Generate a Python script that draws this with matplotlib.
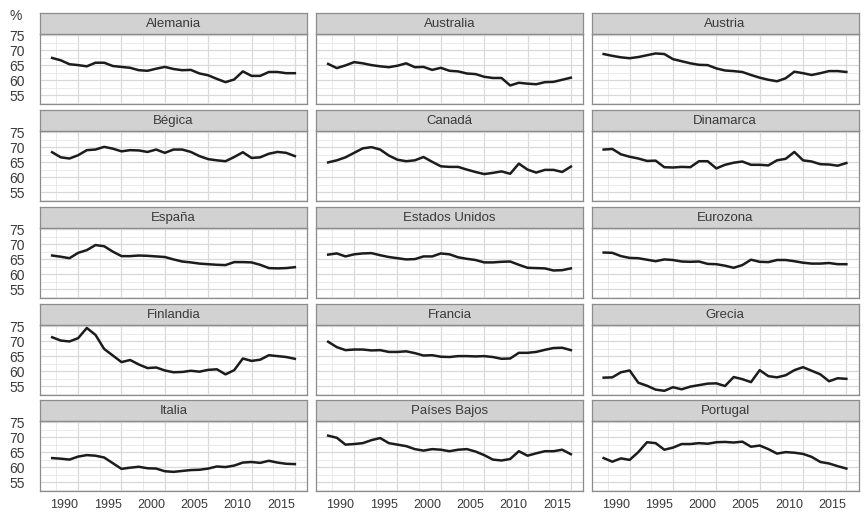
import matplotlib.pyplot as plt
from matplotlib.ticker import MultipleLocator

plt.rcParams["font.family"] = ["Liberation Sans", "DejaVu Sans"]

years = list(range(1987, 2016))

alemania = [67.4, 66.6, 65.3, 65.0, 64.6, 65.8, 65.8, 64.7, 64.4, 64.1, 63.3, 63.1, 63.8, 64.4, 63.7,
            63.3, 63.4, 62.2, 61.6, 60.4, 59.3, 60.2, 62.9, 61.4, 61.4, 62.7, 62.7, 62.3, 62.3]
australia = [65.4, 64.0, 64.9, 66.0, 65.6, 65.0, 64.6, 64.3, 64.8, 65.6, 64.3, 64.4, 63.4, 64.1, 63.1,
             62.9, 62.2, 62.0, 61.1, 60.7, 60.7, 58.2, 59.1, 58.8, 58.6, 59.3, 59.4, 60.1, 60.8]
austria = [68.7, 68.1, 67.6, 67.3, 67.7, 68.3, 68.9, 68.7, 67.0, 66.3, 65.6, 65.1, 65.0, 63.9, 63.2,
           63.0, 62.7, 61.7, 60.8, 60.1, 59.6, 60.6, 62.8, 62.3, 61.7, 62.3, 63.0, 63.0, 62.7]
belgica = [68.3, 66.6, 66.2, 67.3, 69.0, 69.2, 70.1, 69.5, 68.6, 69.0, 68.9, 68.4, 69.2, 68.1, 69.2,
           69.2, 68.4, 67.0, 66.0, 65.6, 65.3, 66.7, 68.3, 66.4, 66.6, 67.8, 68.4, 68.1, 67.0]
canada = [64.9, 65.6, 66.6, 68.1, 69.6, 70.0, 69.2, 67.2, 65.8, 65.3, 65.6, 66.7, 65.1, 63.6, 63.4,
          63.4, 62.5, 61.7, 61.0, 61.4, 61.9, 61.1, 64.5, 62.5, 61.5, 62.4, 62.4, 61.7, 63.5]
dinamarca = [69.2, 69.4, 67.6, 66.8, 66.2, 65.4, 65.5, 63.3, 63.2, 63.4, 63.3, 65.3, 65.3, 62.9, 64.1,
             64.8, 65.2, 64.1, 64.1, 63.9, 65.6, 66.1, 68.4, 65.6, 65.2, 64.3, 64.2, 63.8, 64.7]
espana = [66.2, 65.8, 65.3, 67.1, 68.0, 69.7, 69.3, 67.5, 66.0, 66.0, 66.2, 66.1, 65.9, 65.7, 64.9,
          64.2, 63.9, 63.5, 63.3, 63.1, 63.0, 64.0, 64.0, 63.9, 63.1, 62.0, 61.9, 62.0, 62.3]
estados_unidos = [66.5, 66.9, 65.9, 66.6, 66.9, 67.0, 66.3, 65.7, 65.3, 64.9, 65.0, 65.9, 65.9, 66.9, 66.6,
                  65.6, 65.1, 64.7, 63.9, 63.9, 64.1, 64.2, 63.1, 62.1, 62.0, 61.9, 61.2, 61.3, 61.9]
eurozona = [67.2, 67.1, 66.0, 65.4, 65.3, 64.8, 64.3, 64.9, 64.7, 64.2, 64.1, 64.2, 63.4, 63.3, 62.8,
            62.1, 63.0, 64.8, 64.1, 64.0, 64.7, 64.7, 64.3, 63.8, 63.5, 63.5, 63.7, 63.3, 63.3]
finlandia = [71.3, 70.2, 69.9, 71.0, 74.4, 72.1, 67.4, 65.2, 63.0, 63.7, 62.2, 61.0, 61.2, 60.2, 59.6,
             59.7, 60.1, 59.8, 60.4, 60.6, 58.9, 60.3, 64.2, 63.4, 63.8, 65.3, 65.0, 64.7, 64.1]
francia = [69.8, 68.0, 67.0, 67.2, 67.2, 66.9, 67.0, 66.4, 66.4, 66.6, 66.0, 65.2, 65.3, 64.8, 64.7,
           65.0, 65.0, 64.9, 65.0, 64.7, 64.1, 64.2, 66.1, 66.1, 66.4, 67.1, 67.7, 67.8, 67.0]
grecia = [57.8, 57.9, 59.6, 60.2, 56.1, 55.1, 53.8, 53.4, 54.6, 53.9, 54.8, 55.3, 55.8, 55.9, 55.0,
          58.0, 57.3, 56.3, 60.3, 58.3, 57.9, 58.6, 60.3, 61.3, 60.1, 58.9, 56.6, 57.6, 57.4]
italia = [63.0, 62.8, 62.5, 63.5, 64.0, 63.8, 63.2, 61.3, 59.4, 59.8, 60.1, 59.6, 59.5, 58.6, 58.4,
          58.7, 59.0, 59.1, 59.5, 60.2, 60.0, 60.5, 61.5, 61.7, 61.4, 62.1, 61.5, 61.1, 61.0]
paises_bajos = [70.5, 69.8, 67.5, 67.7, 68.0, 69.0, 69.7, 68.0, 67.5, 67.0, 66.0, 65.5, 66.0, 65.8, 65.3,
                65.8, 66.0, 65.2, 64.0, 62.5, 62.2, 62.7, 65.3, 63.8, 64.6, 65.3, 65.3, 65.8, 64.3]
portugal = [63.0, 61.8, 62.9, 62.4, 65.0, 68.3, 68.0, 65.8, 66.5, 67.7, 67.7, 68.0, 67.8, 68.3, 68.4,
            68.2, 68.5, 66.8, 67.2, 66.0, 64.5, 65.0, 64.8, 64.4, 63.4, 61.7, 61.2, 60.3, 59.5]

titles = ["Alemania", "Australia", "Austria",
          "Bégica", "Canadá", "Dinamarca",
          "España", "Estados Unidos", "Eurozona",
          "Finlandia", "Francia", "Grecia",
          "Italia", "Países Bajos", "Portugal"]
series = [alemania, australia, austria,
          belgica, canada, dinamarca,
          espana, estados_unidos, eurozona,
          finlandia, francia, grecia,
          italia, paises_bajos, portugal]

y_ticks = [55, 60, 65, 70, 75]
x_ticks = [1990, 1995, 2000, 2005, 2010, 2015]

# layout in pixels
W, H = 867, 517
col_left = [40, 316, 591.5]
panel_w = 267
row_top = [13, 110, 207, 304, 400]
strip_h = 21
panel_h = 70

border = "#8c8c8c"
text_col = "#3a3a3a"


def rect(x, y, w, h):
    return [x / W, 1 - (y + h) / H, w / W, h / H]


fig = plt.figure(figsize=(W / 100, H / 100), dpi=100)

for i, (title, values) in enumerate(zip(titles, series)):
    r, c = divmod(i, 3)
    x0 = col_left[c]
    y0 = row_top[r]

    # strip with the country name
    sax = fig.add_axes(rect(x0, y0, panel_w, strip_h))
    sax.set_facecolor("#d2d2d2")
    sax.set_xticks([])
    sax.set_yticks([])
    for sp in sax.spines.values():
        sp.set_color(border)
        sp.set_linewidth(0.9)
    sax.text(0.5, 0.47, title, ha="center", va="center", fontsize=9.5,
             color=text_col, transform=sax.transAxes)

    ax = fig.add_axes(rect(x0, y0 + strip_h, panel_w, panel_h))
    ax.plot(years, values, color="#1c1c1c", lw=1.8, solid_joinstyle="round", zorder=3)

    ax.set_xlim(1985.6, 2016.4)
    ax.set_ylim(52.0, 75.4)
    ax.set_xticks(x_ticks)
    ax.set_yticks(y_ticks)
    ax.xaxis.set_minor_locator(MultipleLocator(2.5))
    ax.yaxis.set_minor_locator(MultipleLocator(2.5))
    ax.grid(which="major", color="#d9d9d9", lw=0.9)
    ax.grid(which="minor", color="#e6e6e6", lw=0.6)
    ax.set_axisbelow(True)
    ax.tick_params(which="both", length=0)
    for sp in ax.spines.values():
        sp.set_color(border)
        sp.set_linewidth(0.9)

    if c == 0:
        ax.tick_params(axis="y", labelsize=10, labelcolor=text_col, pad=11)
    else:
        ax.set_yticklabels([])
    if r == 4:
        ax.tick_params(axis="x", labelsize=9, labelcolor=text_col, pad=6)
        for lab in ax.get_xticklabels():
            lab.set_horizontalalignment("right")
    else:
        ax.set_xticklabels([])

fig.text(16 / W, 1 - 16 / H, "%", ha="center", va="center", fontsize=10, color=text_col)

fig.savefig("out.png", dpi=100)
